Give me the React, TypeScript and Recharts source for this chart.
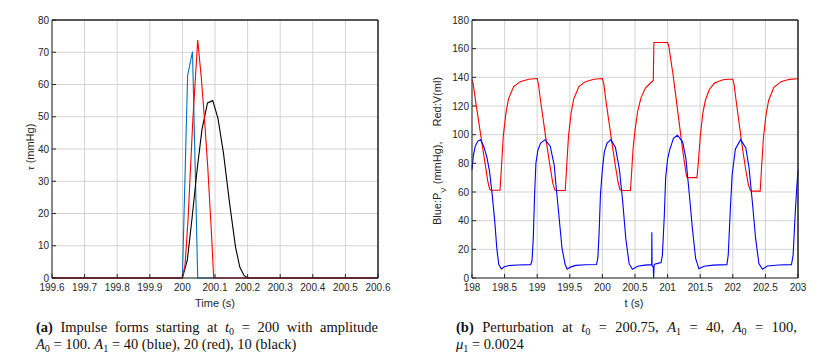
import React from 'react';
import { LineChart, Line, XAxis, YAxis, CartesianGrid, ReferenceLine } from 'recharts';

// (a) impulse forms
const impTicks = [199.6, 199.7, 199.8, 199.9, 200, 200.1, 200.2, 200.3, 200.4, 200.5, 200.6];
const tauTicks = [0, 10, 20, 30, 40, 50, 60, 70, 80];

const blueT = [199.6, 200, 200.016, 200.031, 200.047, 200.6];
const blueTau = [0, 0, 62.8, 70.2, 0, 0];

const redT = [199.6, 200, 200.008, 200.017, 200.032, 200.047, 200.058, 200.068, 200.078, 200.088, 200.096, 200.6];
const redTau = [0, 0, 4, 17.6, 49, 73.8, 62, 49, 34, 16, 0, 0];

const blackT = [199.6, 200, 200.015, 200.029, 200.045, 200.06, 200.077, 200.093, 200.109, 200.126, 200.145, 200.163, 200.176, 200.189, 200.2, 200.6];
const blackTau = [0, 0, 5.5, 18, 33.5, 46, 54.3, 55, 49.6, 38.7, 23, 9.6, 3.4, 0.8, 0, 0];

// (b) perturbation
const pertTicks = [198, 198.5, 199, 199.5, 200, 200.5, 201, 201.5, 202, 202.5, 203];
const pvTicks = [0, 20, 40, 60, 80, 100, 120, 140, 160, 180];

const volT = [
  198, 198.02, 198.05, 198.1, 198.15, 198.2, 198.24, 198.27, 198.29, 198.43, 198.45, 198.48, 198.52, 198.56, 198.64, 198.74, 198.87,
  199, 199.02, 199.05, 199.1, 199.15, 199.2, 199.24, 199.27, 199.29, 199.43, 199.45, 199.48, 199.52, 199.56, 199.64, 199.74, 199.87,
  200, 200.02, 200.05, 200.1, 200.15, 200.2, 200.24, 200.27, 200.29, 200.43, 200.45, 200.47, 200.5, 200.54, 200.59, 200.66, 200.74, 200.78,
  200.79, 201, 201.02, 201.05, 201.08, 201.12, 201.17, 201.22, 201.26, 201.29, 201.31, 201.45, 201.47, 201.5, 201.54, 201.58, 201.64, 201.72, 201.85,
  202, 202.02, 202.05, 202.1, 202.15, 202.2, 202.24, 202.27, 202.29, 202.42, 202.44, 202.47, 202.51, 202.55, 202.63, 202.74, 202.87, 203,
];
const volV = [
  138.6, 135, 125, 110, 95, 80, 68, 62, 61.2, 61.2, 76, 99, 115, 125, 133.5, 137, 138.7,
  139.2, 135, 124, 108, 92, 77, 66, 61.5, 61, 61, 76, 99, 115, 125, 133.5, 137, 138.7,
  139.2, 136, 125, 109, 93, 78, 67, 61.5, 61, 61, 75, 90, 103, 116, 125.5, 132.5, 136.2, 137.6,
  164.3, 164.3, 161.5, 152, 143, 129, 111, 93, 80, 71, 70, 70, 80, 98, 115, 124, 131.5, 136, 138.3,
  138.8, 135, 124, 107, 90, 75, 65, 61, 60.6, 60.6, 76, 98, 114, 124, 133, 137, 138.6, 139,
];

const presT = [
  198, 198.02, 198.05, 198.09, 198.13, 198.18, 198.23, 198.27, 198.31, 198.35, 198.38, 198.41, 198.45, 198.49, 198.55, 198.7,
  198.9, 198.92, 198.94, 198.96, 198.98, 199.01, 199.05, 199.12, 199.2, 199.26, 199.29, 199.33, 199.38, 199.43, 199.46, 199.51, 199.59, 199.75,
  199.91, 199.93, 199.95, 199.97, 200, 200.03, 200.07, 200.13, 200.2, 200.26, 200.31, 200.36, 200.41, 200.46, 200.54, 200.65,
  200.756, 200.758, 200.762, 200.78, 200.786, 200.793, 200.81, 200.85, 200.9, 200.92, 200.95, 200.97, 201, 201.03, 201.09, 201.15, 201.23, 201.28, 201.33, 201.38, 201.43, 201.48, 201.56, 201.7,
  201.91, 201.93, 201.96, 201.99, 202.04, 202.12, 202.2, 202.25, 202.3, 202.35, 202.4, 202.455, 202.53, 202.7,
  202.9, 202.925, 202.956, 202.98, 203,
];
const presP = [
  75.5, 85, 92, 95.5, 96.5, 92, 84, 74, 58, 39, 21, 9.5, 6.3, 7.6, 8.6, 9.1,
  9.3, 12, 28, 58, 80, 89, 94, 96.5, 92, 79, 64, 45, 21, 9, 6.2, 7.6, 8.8, 9.2,
  9.4, 14, 32, 58, 76, 88, 94, 96.5, 91, 76, 54, 27, 10, 6.1, 8.2, 9,
  9.3, 32, 9, 7.5, 0, 9, 9.8, 10.2, 10.8, 16, 44, 70, 83, 89, 97.5, 99.6, 95, 83.6, 60, 34.6, 13.6, 6.5, 8.2, 9,
  9.3, 16, 46, 72, 90, 96.5, 90.7, 76.6, 53, 27.6, 10, 6.1, 8.4, 9.1,
  9.3, 16, 44, 62.6, 75.5,
];

const toRows = (ts: number[], vs: number[]) => ts.map((t, i) => ({ t, v: vs[i] }));

const INK = '#262626';
const GRID = '#d4d4d4';
const SANS = '"Liberation Sans", Arial, sans-serif';
const SERIF = '"Liberation Serif", "Times New Roman", serif';
const tickStyle = { fontFamily: SANS, fontSize: 10, fill: INK };
const labelStyle = { fontFamily: SANS, fontSize: 11, fill: INK };

const fmt1 = (v: number) => String(Math.round(v * 10) / 10);

const Sub: React.FC<{ children: React.ReactNode }> = ({ children }) => (
  <span style={{ fontSize: '0.7em', position: 'relative', top: '0.28em', fontStyle: 'normal' }}>{children}</span>
);

const capLine: React.CSSProperties = {
  position: 'absolute',
  fontFamily: SERIF,
  fontSize: 14.5,
  lineHeight: '17px',
  color: '#111',
};

const App: React.FC = () => {
  return (
    <div style={{ position: 'absolute', left: 0, top: 0, width: 832, height: 358, background: '#fff', overflow: 'hidden' }}>
      <div style={{ position: 'absolute', left: 0, top: 0 }}>
        <LineChart width={400} height={312} margin={{ top: 20, right: 22, bottom: 0, left: 0 }}>
          <CartesianGrid stroke={GRID} xAxisId={0} yAxisId={0} />
          <XAxis
            dataKey="t"
            type="number"
            domain={[199.6, 200.6]}
            ticks={impTicks}
            interval={0}
            tickFormatter={fmt1}
            height={34}
            stroke={INK}
            tick={tickStyle}
            tickSize={-4}
            tickMargin={10}
            label={() => (
              <text x={215} y={307} textAnchor="middle" style={labelStyle}>Time (s)</text>
            )}
          />
          <XAxis xAxisId="top" orientation="top" type="number" domain={[199.6, 200.6]} ticks={impTicks} interval={0}
            height={1} mirror tick={false} tickSize={4} stroke={INK} />
          <YAxis
            type="number"
            domain={[0, 80]}
            ticks={tauTicks}
            interval={0}
            width={52}
            stroke={INK}
            tick={tickStyle}
            tickSize={-4}
            tickMargin={7}
            label={() => (
              <text transform="rotate(-90)" x={-147} y={34} textAnchor="middle" style={labelStyle}>
                <tspan fontStyle="italic" fontFamily={SERIF}>τ</tspan> (mmHg)
              </text>
            )}
          />
          <YAxis yAxisId="right" orientation="right" type="number" domain={[0, 80]} ticks={tauTicks} interval={0}
            width={1} mirror tick={false} tickSize={4} stroke={INK} />
          <ReferenceLine y={80} stroke={INK} />
          <ReferenceLine x={200.6} stroke={INK} />
          <Line data={toRows(blueT, blueTau)} dataKey="v" type="linear" stroke="#0072BD" strokeWidth={1.1} dot={false} isAnimationActive={false} />
          <Line data={toRows(blackT, blackTau)} dataKey="v" type="linear" stroke="#000000" strokeWidth={1.1} dot={false} isAnimationActive={false} />
          <Line data={toRows(redT, redTau)} dataKey="v" type="linear" stroke="#ff0000" strokeWidth={1.1} dot={false} isAnimationActive={false} />
        </LineChart>
      </div>

      <div style={{ position: 'absolute', left: 410, top: 0 }}>
        <LineChart width={422} height={312} margin={{ top: 20, right: 34, bottom: 0, left: 0 }}>
          <CartesianGrid stroke={GRID} xAxisId={0} yAxisId={0} />
          <XAxis
            dataKey="t"
            type="number"
            domain={[198, 203]}
            ticks={pertTicks}
            interval={0}
            tickFormatter={(v: number) => String(v)}
            height={34}
            stroke={INK}
            tick={tickStyle}
            tickSize={-4}
            tickMargin={10}
            label={() => (
              <text x={224} y={307} textAnchor="middle" style={labelStyle}>t (s)</text>
            )}
          />
          <XAxis xAxisId="top" orientation="top" type="number" domain={[198, 203]} ticks={pertTicks} interval={0}
            height={1} mirror tick={false} tickSize={4} stroke={INK} />
          <YAxis
            type="number"
            domain={[0, 180]}
            ticks={pvTicks}
            interval={0}
            width={62}
            stroke={INK}
            tick={tickStyle}
            tickSize={-4}
            tickMargin={7}
            label={() => (
              <text transform="rotate(-90)" x={-151} y={31} textAnchor="middle" style={labelStyle}>
                Blue:P<tspan baselineShift="sub" fontSize={8}>V</tspan><tspan> (mmHg),</tspan><tspan dx={15}>Red:V(ml)</tspan>
              </text>
            )}
          />
          <YAxis yAxisId="right" orientation="right" type="number" domain={[0, 180]} ticks={pvTicks} interval={0}
            width={1} mirror tick={false} tickSize={4} stroke={INK} />
          <ReferenceLine y={180} stroke={INK} />
          <ReferenceLine x={203} stroke={INK} />
          <Line data={toRows(volT, volV)} dataKey="v" type="linear" stroke="#ff0000" strokeWidth={1.1} dot={false} isAnimationActive={false} />
          <Line data={toRows(presT, presP)} dataKey="v" type="linear" stroke="#0000ff" strokeWidth={1.1} dot={false} isAnimationActive={false} />
        </LineChart>
      </div>

      <div style={{ ...capLine, left: 36, top: 319, width: 342, textAlign: 'justify', textAlignLast: 'justify' }}>
        <b>(a)</b> Impulse forms starting at <i>t</i><Sub>0</Sub> = 200 with amplitude
      </div>
      <div style={{ ...capLine, left: 36, top: 336 }}>
        <i>A</i><Sub>0</Sub> = 100. <i>A</i><Sub>1</Sub> = 40 (blue), 20 (red), 10 (black)
      </div>

      <div style={{ ...capLine, left: 456, top: 319, width: 341, textAlign: 'justify', textAlignLast: 'justify' }}>
        <b>(b)</b> Perturbation at <i>t</i><Sub>0</Sub> = 200.75, <i>A</i><Sub>1</Sub> = 40, <i>A</i><Sub>0</Sub> = 100,
      </div>
      <div style={{ ...capLine, left: 456, top: 336 }}>
        <i>μ</i><Sub>1</Sub> = 0.0024
      </div>
    </div>
  );
};

export default App;
